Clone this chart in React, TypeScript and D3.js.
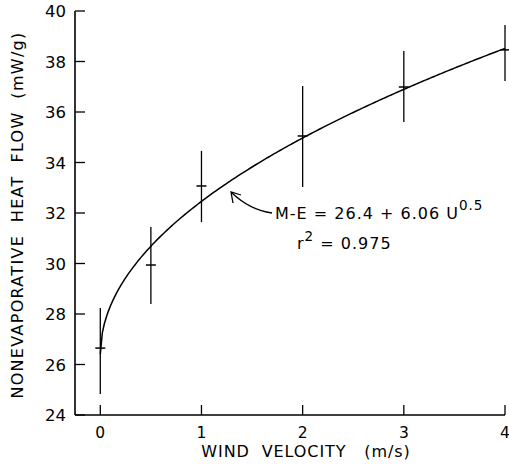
import React from 'react';
import * as d3 from 'd3';

// wind velocity (m/s) and measured nonevaporative heat flow (mW/g)
const windSpeeds = [0, 0.5, 1, 2, 3, 4];
const heatMeans = [26.65, 29.94, 33.07, 35.05, 36.99, 38.46];
const heatLows = [24.83, 28.4, 31.64, 33.03, 35.6, 37.23];
const heatHighs = [28.24, 31.45, 34.46, 37.03, 38.42, 39.45];

const xTicks = [0, 1, 2, 3, 4];
const yTicks = [24, 26, 28, 30, 32, 34, 36, 38, 40];

// fitted curve M-E = a + b * U^0.5
const fitA = 26.4;
const fitB = 6.06;
const curveSamples = d3.range(0, 4.0001, 0.02);

const W = 509;
const H = 467;
const FONT = '"DejaVu Sans", "Liberation Sans", sans-serif';

export default function App() {
  const x = d3.scaleLinear().domain([-0.25, 4]).range([75, 505]);
  const y = d3.scaleLinear().domain([24, 40]).range([415, 11]);

  const line = d3
    .line<number>()
    .x((u) => x(u))
    .y((u) => y(fitA + fitB * Math.sqrt(u)));

  return (
    <svg
      width={W}
      height={H}
      style={{ position: 'absolute', left: 0, top: 0, background: '#fff' }}
      fontFamily={FONT}
    >
      {/* axes */}
      <line x1={x(-0.25)} x2={x(4)} y1={y(24)} y2={y(24)} stroke="#000" strokeWidth={1.6} />
      <line x1={x(-0.25)} x2={x(-0.25)} y1={y(24)} y2={y(40)} stroke="#000" strokeWidth={1.6} />

      {xTicks.map((t) => (
        <g key={'xt' + t}>
          <line x1={x(t)} x2={x(t)} y1={y(24)} y2={y(24) - 10} stroke="#000" strokeWidth={1.3} />
          <text x={x(t)} y={438} textAnchor="middle" fontSize={15.5}>
            {t}
          </text>
        </g>
      ))}

      {yTicks.map((t) => (
        <g key={'yt' + t}>
          <line x1={x(-0.25)} x2={x(-0.25) + 10} y1={y(t)} y2={y(t)} stroke="#000" strokeWidth={1.3} />
          <text x={66} y={y(t) + 6} textAnchor="end" fontSize={16.5}>
            {t}
          </text>
        </g>
      ))}

      {/* axis titles */}
      <text
        x={306}
        y={457}
        textAnchor="middle"
        fontSize={16}
        letterSpacing={0.9}
        style={{ whiteSpace: 'pre' }}
      >
        {'WIND  VELOCITY   (m/s)'}
      </text>
      <text
        transform={`translate(23, 215) rotate(-90)`}
        textAnchor="middle"
        fontSize={16}
        letterSpacing={1.3}
        style={{ whiteSpace: 'pre' }}
      >
        {'NONEVAPORATIVE  HEAT  FLOW  (mW/g)'}
      </text>

      {/* fitted curve */}
      <path d={line(curveSamples) ?? ''} fill="none" stroke="#000" strokeWidth={1.5} />

      {/* error bars and means */}
      {windSpeeds.map((u, i) => (
        <g key={'pt' + i} stroke="#000">
          <line x1={x(u)} x2={x(u)} y1={y(heatLows[i])} y2={y(heatHighs[i])} strokeWidth={1.3} />
          <line x1={x(u) - 5} x2={x(u) + 5} y1={y(heatMeans[i])} y2={y(heatMeans[i])} strokeWidth={1.5} />
        </g>
      ))}

      {/* annotation arrow */}
      <path d="M272,213 Q250,210 232,193" fill="none" stroke="#000" strokeWidth={1.3} />
      <path d="M233,203 L231,192 L241,195" fill="none" stroke="#000" strokeWidth={1.3} />

      <text x={275} y={219} fontSize={16} letterSpacing={1}>
        M-E = 26.4 + 6.06 U
        <tspan dy={-9} fontSize={13.5}>
          0.5
        </tspan>
      </text>
      <text x={297} y={249} fontSize={16} letterSpacing={1}>
        r<tspan dy={-8} fontSize={13.5}>2</tspan>
        <tspan dy={8}> = 0.975</tspan>
      </text>
    </svg>
  );
}
